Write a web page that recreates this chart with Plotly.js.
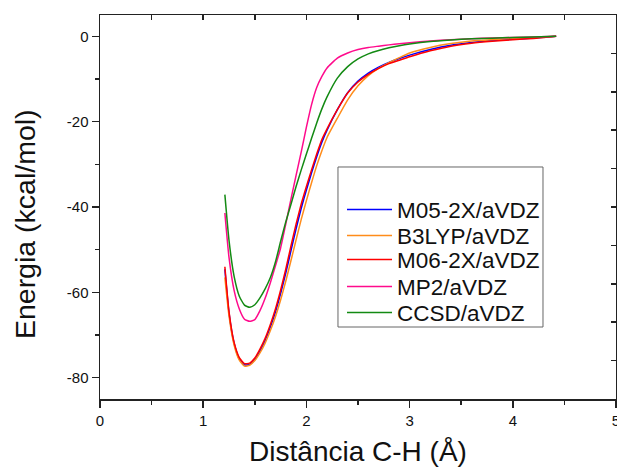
<!DOCTYPE html>
<html>
<head>
<meta charset="utf-8">
<script src="https://cdn.plot.ly/plotly-3.0.1.min.js"></script>
<style>html,body{margin:0;padding:0;background:#fff;}#chart{width:617px;height:470px;}</style>
</head>
<body>
<div id="chart"></div>
<script>
// C-H distance (Å)
const distance = [1.21,1.25,1.3,1.35,1.4,1.45,1.5,1.55,1.6,1.65,1.7,1.75,1.8,1.85,1.9,1.95,2.0,2.05,2.1,2.15,2.2,2.3,2.4,2.5,2.6,2.7,2.8,2.9,3.0,3.2,3.4,3.6,3.8,4.0,4.2,4.42];

// Energies (kcal/mol)
const m052x = [-54.6,-64.8,-72.0,-75.6,-77.0,-76.9,-75.8,-73.8,-71.3,-68.2,-64.6,-60.3,-55.5,-50.3,-45.1,-40.3,-36.0,-32.0,-28.2,-24.8,-22.0,-17.2,-13.2,-10.5,-8.6,-7.2,-6.1,-5.2,-4.4,-3.1,-2.1,-1.45,-1.0,-0.7,-0.4,0];
const b3lyp = [-56.5,-65.5,-72.4,-75.9,-77.3,-77.1,-76.0,-74.2,-71.9,-69.0,-65.7,-61.8,-57.4,-52.6,-47.7,-42.9,-38.5,-34.3,-30.3,-26.8,-23.7,-19.2,-14.9,-11.6,-9.2,-7.5,-6.2,-5.0,-3.9,-2.6,-1.7,-1.1,-0.78,-0.5,-0.25,0];
const m062x = [-54.0,-64.5,-71.8,-75.3,-76.7,-76.6,-75.4,-73.3,-70.8,-67.6,-63.9,-59.5,-54.6,-49.2,-44.0,-39.3,-35.2,-31.3,-27.6,-24.2,-21.7,-17.2,-13.3,-10.7,-8.9,-7.5,-6.4,-5.6,-4.8,-3.4,-2.3,-1.6,-1.15,-0.8,-0.5,0];
const mp2 = [-41.4,-51.8,-59.6,-63.9,-66.3,-66.8,-66.4,-64.3,-61.4,-57.8,-53.8,-49.6,-44.0,-38.2,-32.6,-27.1,-21.3,-16.0,-12.0,-9.4,-7.4,-5.1,-3.9,-3.1,-2.6,-2.3,-2.0,-1.75,-1.5,-1.1,-0.8,-0.56,-0.4,-0.27,-0.14,0];
const ccsd = [-37.1,-47.8,-56.3,-60.9,-63.0,-63.5,-62.9,-61.3,-59.2,-56.6,-52.9,-48.1,-43.5,-39.4,-35.2,-31.3,-27.6,-23.9,-20.3,-17.0,-14.2,-9.8,-7.1,-5.3,-4.1,-3.3,-2.7,-2.2,-1.8,-1.2,-0.85,-0.58,-0.42,-0.28,-0.15,0];

const seriesNames = ['M05-2X/aVDZ','B3LYP/aVDZ','M06-2X/aVDZ','MP2/aVDZ','CCSD/aVDZ'];
const seriesValues = [m052x, b3lyp, m062x, mp2, ccsd];
const seriesColors = ['#0000ff','#ff8c1a','#ff0000','#ff0a8c','#138a13'];

const xTicks = [0,1,2,3,4,5];
const yTicks = [-80,-60,-40,-20,0];

const font = '"Liberation Sans", Arial, sans-serif';
const axisColor = '#222';

const legendIds = ['legend','legend2','legend3','legend4','legend5'];
const legendRowY = [0.4922, 0.4245, 0.3620, 0.2917, 0.2240];

const traces = seriesValues.map((v, i) => ({
  x: distance, y: v, type: 'scatter', mode: 'lines', name: seriesNames[i],
  legend: legendIds[i],
  line: {color: seriesColors[i], width: 1.5, shape: 'spline', smoothing: 0.5}
}));
// frame axes (top/right)
traces.push({x: [], y: [], xaxis: 'x2', yaxis: 'y2', showlegend: false, hoverinfo: 'skip', type: 'scatter', mode: 'lines'});

const layout = {
  width: 617, height: 470,
  margin: {l: 100, r: 1, t: 15, b: 71},
  paper_bgcolor: '#fff', plot_bgcolor: '#fff',
  font: {family: font, color: '#111'},
  showlegend: true,
  xaxis: {
    range: [0, 5], tickvals: xTicks, ticktext: xTicks.map(String),
    ticks: 'outside', ticklen: 7, tickwidth: 1.5, tickcolor: axisColor,
    ticklabeloverflow: 'allow',
    minor: {dtick: 0.5, tick0: 0, ticks: 'outside', ticklen: 4, tickwidth: 1.5, tickcolor: axisColor, showgrid: false},
    showline: true, linecolor: axisColor, linewidth: 1.5,
    showgrid: false, zeroline: false,
    tickfont: {size: 15, family: font, color: '#111'},
    title: {text: 'Distância C-H (Å)', font: {size: 28, family: font, color: '#111'}, standoff: 14}
  },
  yaxis: {
    range: [-85, 5], tickvals: yTicks, ticktext: yTicks.map(String),
    ticks: 'outside', ticklen: 7, tickwidth: 1.5, tickcolor: axisColor,
    minor: {dtick: 10, tick0: 0, ticks: 'outside', ticklen: 4, tickwidth: 1.5, tickcolor: axisColor, showgrid: false},
    showline: true, linecolor: axisColor, linewidth: 1.5,
    showgrid: false, zeroline: false,
    tickfont: {size: 15, family: font, color: '#111'}
  },
  xaxis2: {
    overlaying: 'x', side: 'top', range: [0, 5], dtick: 0.5, tick0: 0,
    ticks: 'inside', ticklen: 5, tickwidth: 1.5, tickcolor: axisColor,
    showticklabels: false, showline: true, linecolor: axisColor, linewidth: 1.5,
    showgrid: false, zeroline: false
  },
  yaxis2: {
    overlaying: 'y', side: 'right', range: [0, 10], dtick: 1, tick0: 0,
    ticks: 'inside', ticklen: 5, tickwidth: 1.5, tickcolor: axisColor,
    showticklabels: false, showline: true, linecolor: axisColor, linewidth: 1.5,
    showgrid: false, zeroline: false
  },
  annotations: [{
    text: 'Energia (kcal/mol)', textangle: -90, showarrow: false,
    xref: 'paper', yref: 'paper', x: -0.145, y: 0.456, xanchor: 'center', yanchor: 'middle',
    font: {size: 28.5, family: font, color: '#111'}
  }],
  shapes: [{
    type: 'rect', xref: 'paper', yref: 'paper',
    x0: 0.4612, x1: 0.8585, y0: 0.1875, y1: 0.6042,
    line: {color: '#666', width: 1}, fillcolor: '#fff', layer: 'above'
  }]
};

legendIds.forEach((id, i) => {
  layout[id] = {
    x: 0.469, y: legendRowY[i], xanchor: 'left', yanchor: 'middle',
    bgcolor: 'rgba(0,0,0,0)', borderwidth: 0,
    font: {size: 22.5, family: font, color: '#111'},
    itemwidth: 45, tracegroupgap: 0
  };
});

Plotly.newPlot('chart', traces, layout, {displayModeBar: false, staticPlot: true});
</script>
</body>
</html>
